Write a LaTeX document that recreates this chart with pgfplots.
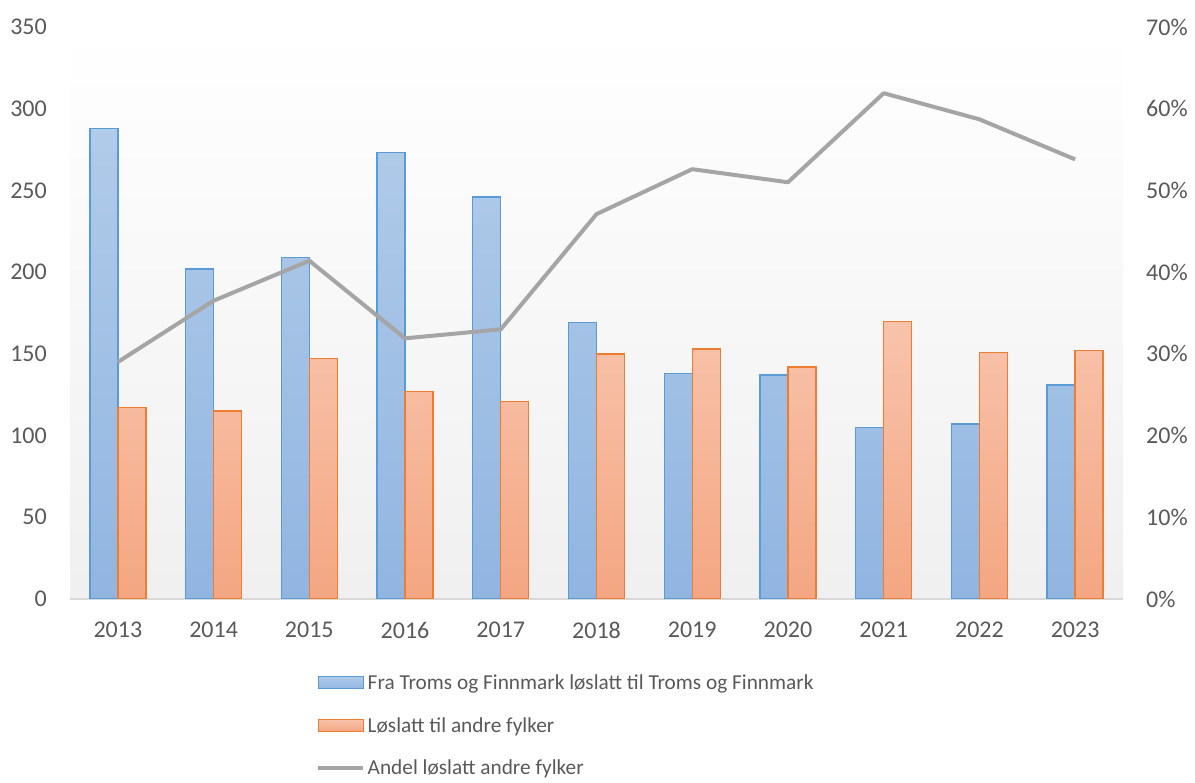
\documentclass[border=0pt]{standalone}
\usepackage{pgfplots}
\pgfplotsset{compat=1.18}
\usepackage{fontspec}
\setmainfont{Carlito}
\definecolor{txt}{HTML}{595959}
\definecolor{bluebd}{HTML}{5B9BD5}
\definecolor{bluetop}{HTML}{B1CBE9}
\definecolor{bluebot}{HTML}{91B5E1}
\definecolor{orbd}{HTML}{ED7D31}
\definecolor{ortop}{HTML}{F8C3AB}
\definecolor{orbot}{HTML}{F4A682}
\definecolor{linegray}{HTML}{A5A5A5}
\definecolor{axisgray}{HTML}{D9D9D9}
\pgfplotsset{
  barlegend/.style={legend image code/.code={\draw[##1] (0bp,-6bp) rectangle (45bp,6bp);}},
  linelegend/.style={legend image code/.code={\draw[##1] (0bp,0bp) -- (45bp,0bp);}},
  common/.style={
    at={(70bp,184bp)}, anchor=south west,
    scale only axis, width=1053bp, height=572bp,
    xmin=-0.5, xmax=10.5,
    font=\fontsize{21.3bp}{25bp}\selectfont,
    /pgf/number format/assume math mode=true,
    tick label style={text=txt, font=\fontsize{24bp}{28bp}\selectfont},
    major tick length=0pt,
  }
}
\begin{document}
\begin{tikzpicture}
\useasboundingbox (0,0) rectangle (1195bp,783bp);
\begin{axis}[common,
  ymin=0, ymax=350, ytick={0,50,...,350},
  axis x line*=bottom, axis y line*=left,
  y axis line style={draw=none},
  x axis line style={draw=axisgray, line width=1.5bp},
  xtick={0,...,10},
  xticklabels={2013,2014,2015,2016,2017,2018,2019,2020,2021,2022,2023},
  xticklabel style={anchor=north, inner sep=0pt, yshift=-23bp},
  yticklabel style={anchor=east, inner sep=0pt, xshift=-23bp},
  axis background/.style={shade, top color=white, bottom color=black!6},
  ybar=0pt, bar width=28bp,
  legend style={at={(0.2308,-0.124)}, anchor=north west, draw=none, fill=none,
    font=\fontsize{21.3bp}{25bp}\selectfont, text=txt,
    row sep=21.5bp, nodes={inner sep=2.5bp}},
  legend cell align=left,
]
\addplot[barlegend, draw=bluebd, line width=1.3bp, top color=bluetop, bottom color=bluebot]
 coordinates {(0,288) (1,202) (2,209) (3,273) (4,246) (5,169) (6,138) (7,137) (8,105) (9,107) (10,131)};
\addlegendentry{Fra Troms og Finnmark løslatt til Troms og Finnmark}
\addplot[barlegend, draw=orbd, line width=1.3bp, top color=ortop, bottom color=orbot]
 coordinates {(0,117) (1,115) (2,147) (3,127) (4,121) (5,150) (6,153) (7,142) (8,170) (9,151) (10,152)};
\addlegendentry{Løslatt til andre fylker}
\addlegendimage{linelegend, linegray, line width=4bp}
\addlegendentry{Andel løslatt andre fylker}
\end{axis}
\begin{axis}[common,
  ymin=0, ymax=70, ytick={0,10,...,70},
  axis y line*=right, axis x line=none,
  y axis line style={draw=none},
  yticklabel={\pgfmathprintnumber{\tick}\%},
  yticklabel style={anchor=west, inner sep=0pt, xshift=23bp},
]
\addplot[linegray, line width=4bp, line join=round]
 coordinates {(0,29.0) (1,36.5) (2,41.4) (3,31.9) (4,33.0) (5,47.1) (6,52.6) (7,51.0) (8,61.9) (9,58.7) (10,53.8)};
\end{axis}
\end{tikzpicture}
\end{document}
